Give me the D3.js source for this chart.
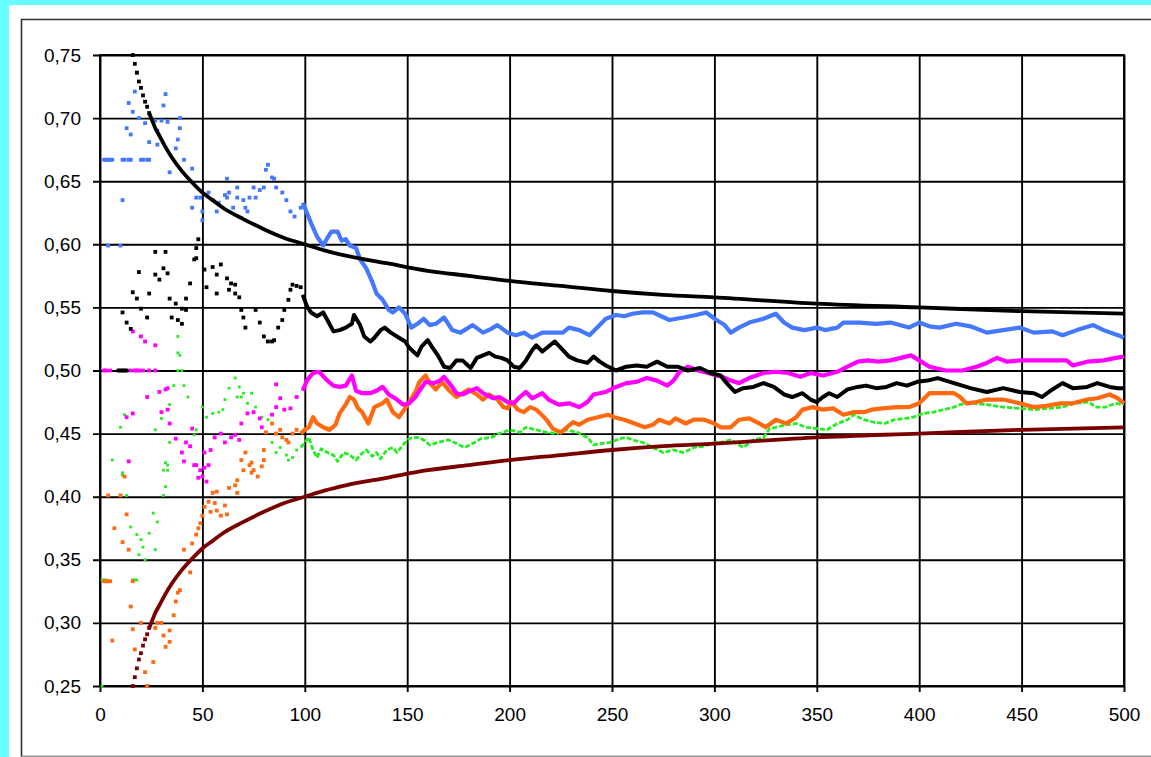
<!DOCTYPE html>
<html>
<head>
<meta charset="utf-8">
<script src="https://cdn.jsdelivr.net/npm/d3@7"></script>
<style>
  body { margin: 0; background: #66ffff; }
  svg { display: block; }
</style>
</head>
<body>
<svg id="chart" width="1151" height="757"></svg>
<script>
// Axis ticks
const xTicks = [0, 50, 100, 150, 200, 250, 300, 350, 400, 450, 500];
const yTicks = [0.25, 0.30, 0.35, 0.40, 0.45, 0.50, 0.55, 0.60, 0.65, 0.70, 0.75];

// Running proportions, [n, value]
const blueSeries = [
  [2,0.667],[3,0.667],[4,0.667],[5,0.667],[6,0.667],[4,0.599],[10,0.599],[11,0.635],[11,0.667],[12,0.667],
  [13,0.692],[14,0.667],[14,0.712],[15,0.667],[15,0.687],[16,0.705],[17,0.721],[18,0.736],[19,0.700],[20,0.667],
  [21,0.667],[22,0.696],[23,0.667],[24,0.667],[24,0.681],[27,0.698],[28,0.679],[28,0.690],[30,0.698],[31,0.710],
  [32,0.719],[33,0.697],[34,0.657],[37,0.676],[38,0.683],[39,0.700],[39,0.692],[41,0.667],[45,0.660],[45,0.629],
  [47,0.637],[49,0.637],[50,0.619],[50,0.626],[53,0.641],[55,0.635],[57,0.626],[58,0.633],[61,0.639],[62,0.637],
  [62,0.652],[63,0.641],[65,0.629],[67,0.645],[67,0.637],[70,0.635],[71,0.629],[72,0.626],[73,0.637],[75,0.645],
  [76,0.637],[78,0.643],[80,0.645],[81,0.659],[82,0.663],[84,0.653],[85,0.652],[86,0.645],[89,0.641],[91,0.635],
  [93,0.626],[95,0.622],[98,0.629],
  [99,0.633],[101,0.625],[103,0.617],[106,0.606],[109,0.599],[111,0.605],[113,0.610],[116,0.610],[118,0.603],[120,0.604],
  [122,0.599],[125,0.597],[127,0.588],[130,0.581],[133,0.570],[135,0.561],[138,0.556],[141,0.548],[143,0.546],[146,0.550],
  [149,0.545],[152,0.534],[155,0.537],[158,0.541],[161,0.536],[164,0.537],[168,0.542],[172,0.532],[176,0.530],[179,0.533],
  [182,0.536],[187,0.530],[191,0.533],[194,0.536],[199,0.530],[203,0.528],[207,0.530],[211,0.526],[216,0.530],[221,0.530],
  [226,0.530],[229,0.534],[234,0.532],[239,0.528],[244,0.536],[247,0.541],[252,0.544],[256,0.543],[260,0.545],[265,0.546],
  [270,0.546],[274,0.543],[278,0.540],[285,0.542],[291,0.544],[296,0.546],[301,0.540],[305,0.536],[308,0.530],[312,0.534],
  [317,0.538],[324,0.541],[330,0.545],[334,0.538],[338,0.534],[344,0.532],[350,0.534],[354,0.532],[360,0.534],[363,0.538],
  [371,0.538],[379,0.537],[386,0.538],[395,0.534],[400,0.538],[405,0.535],[410,0.534],[418,0.537],[425,0.535],[433,0.530],
  [441,0.532],[449,0.534],[456,0.530],[465,0.531],[470,0.528],[477,0.532],[485,0.536],[490,0.532],[497,0.528],[500,0.526]
];

const blackSeries = [
  [9,0.500],[10,0.500],[11,0.500],[12,0.500],[13,0.500],[11,0.546],[13,0.538],[15,0.533],[16,0.562],[18,0.557],
  [19,0.578],[20,0.549],[23,0.542],[24,0.561],[27,0.576],[27,0.594],[29,0.572],[31,0.581],[32,0.594],[33,0.577],
  [34,0.557],[35,0.542],[37,0.553],[38,0.540],[40,0.549],[40,0.537],[42,0.548],[42,0.557],[44,0.569],[46,0.588],
  [47,0.597],[47,0.589],[48,0.604],[51,0.580],[52,0.566],[55,0.582],[57,0.576],[57,0.561],[59,0.584],[62,0.573],
  [63,0.564],[64,0.569],[66,0.568],[66,0.561],[68,0.558],[69,0.548],[70,0.542],[71,0.534],[76,0.548],[78,0.538],
  [80,0.527],[82,0.523],[84,0.523],[85,0.524],[87,0.534],[89,0.540],[90,0.548],[92,0.556],[93,0.564],[94,0.568],
  [96,0.567],[98,0.566],
  [99,0.560],[101,0.551],[103,0.546],[106,0.543],[109,0.546],[112,0.537],[114,0.531],[117,0.532],[120,0.534],[123,0.537],
  [124,0.544],[127,0.536],[129,0.527],[132,0.523],[134,0.526],[137,0.532],[139,0.534],[142,0.530],[145,0.527],[149,0.523],
  [151,0.518],[155,0.512],[157,0.519],[160,0.524],[162,0.519],[165,0.512],[168,0.503],[171,0.502],[174,0.508],[177,0.508],
  [181,0.502],[184,0.510],[187,0.512],[190,0.514],[193,0.511],[196,0.510],[199,0.508],[202,0.503],[205,0.502],[208,0.508],
  [211,0.516],[213,0.520],[216,0.515],[219,0.519],[222,0.523],[225,0.518],[229,0.511],[233,0.508],[238,0.506],[241,0.511],
  [244,0.507],[247,0.504],[252,0.500],[257,0.503],[262,0.504],[267,0.503],[272,0.507],[277,0.503],[282,0.503],[287,0.500],
  [293,0.502],[298,0.498],[303,0.496],[306,0.490],[310,0.483],[314,0.486],[319,0.487],[324,0.490],[329,0.487],[334,0.481],
  [338,0.479],[343,0.482],[347,0.477],[350,0.475],[353,0.479],[356,0.482],[360,0.479],[365,0.485],[370,0.487],[374,0.488],
  [379,0.486],[384,0.487],[389,0.490],[394,0.488],[399,0.491],[404,0.492],[409,0.494],[417,0.490],[425,0.486],[433,0.483],
  [441,0.486],[449,0.483],[456,0.482],[460,0.479],[465,0.485],[470,0.490],[475,0.486],[482,0.487],[487,0.490],[493,0.487],
  [497,0.486],[500,0.486]
];

const magentaSeries = [
  [2,0.500],[3,0.500],[5,0.500],[13,0.463],[14,0.428],[15,0.500],[16,0.466],[16,0.531],[17,0.500],[18,0.500],
  [19,0.500],[20,0.527],[21,0.500],[22,0.523],[23,0.479],[24,0.500],[27,0.520],[27,0.500],[29,0.483],[30,0.467],
  [32,0.485],[33,0.486],[33,0.469],[34,0.458],[37,0.446],[40,0.435],[41,0.428],[42,0.443],[44,0.440],[45,0.454],
  [46,0.425],[47,0.425],[48,0.415],[49,0.421],[50,0.416],[51,0.435],[51,0.423],[52,0.412],[53,0.425],[54,0.437],
  [56,0.447],[59,0.450],[61,0.443],[64,0.447],[66,0.449],[68,0.445],[69,0.458],[72,0.466],[75,0.467],[78,0.462],
  [79,0.455],[84,0.465],[86,0.471],[86,0.489],[88,0.478],[90,0.469],[93,0.470],[96,0.479],
  [99,0.484],[101,0.492],[104,0.498],[107,0.499],[111,0.492],[114,0.488],[117,0.487],[120,0.488],[123,0.496],[125,0.484],
  [128,0.482],[132,0.482],[135,0.484],[138,0.487],[141,0.481],[145,0.477],[148,0.473],[151,0.474],[154,0.479],[156,0.484],
  [159,0.491],[163,0.490],[166,0.492],[168,0.495],[172,0.487],[174,0.482],[177,0.481],[181,0.484],[184,0.486],[187,0.482],
  [192,0.478],[195,0.479],[199,0.475],[202,0.474],[205,0.479],[208,0.483],[211,0.478],[216,0.482],[219,0.477],[224,0.473],
  [229,0.474],[234,0.471],[238,0.475],[241,0.481],[244,0.482],[247,0.483],[252,0.487],[257,0.490],[262,0.491],[267,0.494],
  [272,0.492],[277,0.488],[280,0.492],[283,0.499],[287,0.503],[292,0.500],[297,0.498],[301,0.496],[304,0.495],[308,0.492],
  [312,0.490],[317,0.494],[324,0.498],[330,0.499],[336,0.498],[342,0.495],[347,0.498],[353,0.496],[360,0.499],[365,0.503],
  [370,0.507],[375,0.508],[380,0.507],[386,0.508],[391,0.510],[396,0.512],[400,0.508],[405,0.503],[413,0.500],[421,0.500],
  [428,0.503],[433,0.506],[438,0.510],[443,0.507],[449,0.508],[457,0.508],[465,0.508],[472,0.508],[475,0.504],[482,0.507],
  [490,0.508],[496,0.510],[500,0.511]
];

const orangeSeries = [
  [2,0.333],[3,0.333],[4,0.333],[5,0.333],[4,0.401],[6,0.286],[7,0.375],[10,0.401],[11,0.364],[12,0.416],
  [13,0.386],[14,0.358],[15,0.313],[16,0.333],[16,0.295],[17,0.279],[20,0.300],[22,0.261],[23,0.250],[26,0.269],
  [27,0.296],[28,0.300],[30,0.300],[31,0.290],[32,0.281],[34,0.285],[34,0.294],[36,0.306],[37,0.317],[38,0.324],
  [39,0.326],[41,0.358],[44,0.340],[45,0.363],[47,0.370],[48,0.375],[49,0.379],[50,0.385],[51,0.392],[53,0.396],
  [54,0.388],[55,0.403],[56,0.395],[57,0.389],[57,0.404],[59,0.385],[61,0.393],[62,0.386],[63,0.407],[66,0.409],
  [67,0.413],[67,0.403],[69,0.429],[70,0.421],[71,0.435],[73,0.425],[74,0.427],[74,0.419],[75,0.421],[77,0.416],
  [79,0.424],[80,0.437],[80,0.429],[81,0.451],[84,0.458],[86,0.450],[88,0.453],[89,0.447],[91,0.445],[92,0.443],
  [94,0.450],[96,0.453],
  [98,0.450],[100,0.453],[102,0.455],[104,0.463],[106,0.458],[109,0.455],[112,0.453],[115,0.457],[117,0.466],[120,0.473],
  [122,0.479],[124,0.477],[126,0.470],[128,0.467],[131,0.458],[134,0.471],[138,0.474],[140,0.477],[143,0.467],[146,0.463],
  [149,0.470],[151,0.475],[154,0.483],[156,0.491],[159,0.496],[161,0.490],[164,0.485],[167,0.491],[170,0.485],[174,0.479],
  [177,0.482],[180,0.485],[184,0.481],[187,0.477],[190,0.481],[194,0.477],[197,0.471],[199,0.470],[201,0.475],[204,0.469],
  [207,0.467],[210,0.471],[213,0.469],[215,0.466],[218,0.461],[221,0.454],[225,0.451],[228,0.455],[231,0.459],[234,0.457],
  [238,0.461],[243,0.463],[248,0.465],[251,0.463],[256,0.461],[261,0.458],[266,0.455],[270,0.457],[273,0.461],[278,0.458],
  [281,0.462],[286,0.458],[290,0.461],[295,0.461],[300,0.458],[303,0.455],[308,0.455],[312,0.461],[317,0.462],[322,0.458],
  [325,0.455],[330,0.461],[335,0.458],[340,0.463],[343,0.469],[348,0.471],[353,0.469],[358,0.470],[363,0.465],[368,0.467],
  [373,0.467],[377,0.469],[382,0.470],[389,0.471],[395,0.471],[400,0.474],[405,0.482],[409,0.482],[417,0.482],[420,0.479],
  [423,0.474],[428,0.475],[433,0.477],[441,0.477],[449,0.474],[456,0.471],[462,0.472],[469,0.474],[475,0.474],[482,0.477],
  [487,0.478],[493,0.481],[497,0.478],[500,0.474]
];

const greenSeries = [
  [1,0.250],[1,0.334],[2,0.334],[3,0.334],[6,0.429],[10,0.455],[11,0.419],[11,0.417],[12,0.465],[13,0.401],
  [15,0.376],[16,0.334],[17,0.334],[18,0.334],[18,0.370],[19,0.354],[20,0.366],[21,0.360],[22,0.350],[24,0.371],
  [26,0.387],[27,0.358],[27,0.453],[28,0.380],[30,0.462],[31,0.421],[31,0.401],[32,0.427],[32,0.408],[33,0.421],
  [33,0.425],[34,0.443],[34,0.473],[36,0.488],[38,0.527],[38,0.514],[38,0.500],[39,0.512],[40,0.500],[41,0.488],
  [43,0.479],[46,0.449],[47,0.453],[50,0.471],[52,0.463],[55,0.466],[58,0.467],[60,0.469],[61,0.477],[63,0.486],
  [66,0.494],[67,0.479],[68,0.487],[69,0.479],[70,0.482],[72,0.474],[74,0.482],[76,0.471],[79,0.463],[82,0.461],
  [84,0.443],[86,0.435],[88,0.439],[91,0.433],[92,0.429],[94,0.431],[96,0.437],
  [98,0.439],[100,0.443],[102,0.447],[104,0.437],[106,0.431],[108,0.438],[111,0.435],[114,0.433],[116,0.428],[119,0.435],
  [122,0.433],[125,0.429],[127,0.433],[130,0.437],[133,0.432],[135,0.435],[137,0.430],[140,0.437],[143,0.439],[145,0.435],
  [149,0.443],[151,0.446],[155,0.447],[158,0.445],[161,0.441],[165,0.443],[170,0.445],[173,0.443],[178,0.439],[183,0.443],
  [186,0.446],[191,0.447],[195,0.450],[200,0.453],[205,0.451],[208,0.455],[213,0.453],[218,0.451],[223,0.450],[228,0.453],
  [233,0.451],[238,0.447],[241,0.441],[244,0.442],[249,0.443],[254,0.446],[257,0.447],[260,0.445],[265,0.443],[270,0.439],
  [275,0.435],[280,0.437],[285,0.435],[290,0.439],[295,0.440],[300,0.443],[303,0.443],[308,0.445],[314,0.439],[319,0.445],
  [324,0.447],[327,0.454],[330,0.455],[335,0.457],[340,0.458],[345,0.455],[350,0.454],[355,0.453],[360,0.458],[365,0.461],
  [368,0.465],[373,0.461],[378,0.459],[383,0.458],[388,0.461],[393,0.462],[397,0.463],[402,0.466],[407,0.467],[417,0.471],
  [420,0.473],[425,0.474],[433,0.473],[441,0.471],[449,0.470],[456,0.469],[463,0.470],[470,0.471],[476,0.474],[483,0.475],
  [486,0.471],[491,0.471],[496,0.474],[500,0.473]
];

// Upper and lower envelope curves
const upperBound = [
  [16,0.750],[17,0.743],[18,0.736],[19,0.729],[20,0.724],[21,0.718],[22,0.713],[23,0.709],[24,0.704],[25,0.700],
  [26,0.696],[27,0.692],[28,0.689],[29,0.686],[30,0.683],[32,0.677],[35,0.669],[40,0.658],[45,0.649],[50,0.641],
  [55,0.635],[60,0.629],[70,0.620],[80,0.612],[90,0.605],[100,0.600],[110,0.595],[120,0.591],[140,0.585],[160,0.579],
  [180,0.575],[200,0.571],[225,0.567],[250,0.563],[275,0.560],[300,0.558],[350,0.553],[400,0.550],[450,0.547],[500,0.545]
];
const lowerBound = [
  [16,0.250],[17,0.257],[18,0.264],[19,0.271],[20,0.276],[21,0.282],[22,0.287],[23,0.291],[24,0.296],[25,0.300],
  [26,0.304],[27,0.308],[28,0.311],[29,0.314],[30,0.317],[32,0.323],[35,0.331],[40,0.342],[45,0.351],[50,0.359],
  [55,0.365],[60,0.371],[70,0.380],[80,0.388],[90,0.395],[100,0.400],[110,0.405],[120,0.409],[140,0.415],[160,0.421],
  [180,0.425],[200,0.429],[225,0.433],[250,0.437],[275,0.440],[300,0.442],[350,0.447],[400,0.450],[450,0.453],[500,0.455]
];

const svg = d3.select('#chart');
const W = 1151, H = 757;
const plot = { left: 100, right: 1124, top: 55, bottom: 686 };

// White panel and outer frame
svg.append('rect').attr('x', 9).attr('y', 5).attr('width', W - 9).attr('height', H - 5).attr('fill', '#fff');
svg.append('path')
  .attr('d', `M${W},19.5H21.5V756.5H${W}`)
  .attr('fill', 'none').attr('stroke', '#333').attr('stroke-width', 1.6);
svg.append('line').attr('x1', 21).attr('x2', W).attr('y1', 756.5).attr('y2', 756.5)
  .attr('stroke', '#999').attr('stroke-width', 1.2);

const x = d3.scaleLinear().domain([0, 500]).range([plot.left, plot.right]);
const y = d3.scaleLinear().domain([0.25, 0.75]).range([plot.bottom, plot.top]);

const fontFamily = "'Liberation Sans', Arial, sans-serif";

// Y axis with gridlines
const yAxis = d3.axisLeft(y)
  .tickValues(yTicks)
  .tickSize(-(plot.right - plot.left + 7))
  .tickPadding(12)
  .tickFormat(d => d.toFixed(2).replace('.', ','));
const gy = svg.append('g').attr('transform', `translate(${plot.left - 7},0)`).call(yAxis);
gy.select('.domain').remove();
gy.selectAll('.tick line').attr('stroke', '#000').attr('stroke-width', 1.9);
gy.selectAll('.tick text').attr('font-family', fontFamily).attr('font-size', 19).attr('fill', '#000');

// X axis with gridlines
const xAxis = d3.axisBottom(x)
  .tickValues(xTicks)
  .tickSize(-(plot.bottom - plot.top + 6))
  .tickPadding(16)
  .tickFormat(d3.format('d'));
const gx = svg.append('g').attr('transform', `translate(0,${plot.bottom + 6})`).call(xAxis);
gx.select('.domain').remove();
gx.selectAll('.tick line').attr('stroke', '#000').attr('stroke-width', 1.9);
gx.selectAll('.tick text').attr('font-family', fontFamily).attr('font-size', 19).attr('fill', '#000');

// Plot border
svg.append('rect')
  .attr('x', plot.left).attr('y', plot.top)
  .attr('width', plot.right - plot.left).attr('height', plot.bottom - plot.top)
  .attr('fill', 'none').attr('stroke', '#000').attr('stroke-width', 1.9);

svg.append('clipPath').attr('id', 'plotClip').append('rect')
  .attr('x', plot.left - 2).attr('y', plot.top - 2)
  .attr('width', plot.right - plot.left + 4).attr('height', plot.bottom - plot.top + 4);

const marks = svg.append('g').attr('clip-path', 'url(#plotClip)');

const line = d3.line().x(d => x(d[0])).y(d => y(d[1]));
const smooth = d3.line().x(d => x(d[0])).y(d => y(d[1])).curve(d3.curveMonotoneX);

// Scattered markers for the early trials, joined line once the markers crowd together
function drawSeries(data, color, lineFrom, width, dash) {
  const g = marks.append('g');
  const early = data.filter(d => d[0] < lineFrom);
  const late = data.filter(d => d[0] >= lineFrom).sort((a, b) => a[0] - b[0]);
  const s = Math.min(width, 3.8);
  g.selectAll('rect').data(early).join('rect')
    .attr('x', d => x(d[0]) - s / 2).attr('y', d => y(d[1]) - s / 2)
    .attr('width', s).attr('height', s).attr('fill', color);
  g.append('path').datum(late)
    .attr('d', line)
    .attr('fill', 'none').attr('stroke', color).attr('stroke-width', width)
    .attr('stroke-linejoin', 'round')
    .attr('stroke-dasharray', dash || null);
}

drawSeries(greenSeries, '#22ee22', 98, 2.8, '5 2');
drawSeries(orangeSeries, '#ff6a10', 98, 4.2);
drawSeries(magentaSeries, '#ff00ff', 99, 4.2);
drawSeries(blackSeries, '#000000', 99, 4.0);
drawSeries(blueSeries, '#4478ff', 99, 4.2);

function drawBound(data, color) {
  const g = marks.append('g');
  g.selectAll('rect').data(data.filter(d => d[0] <= 24)).join('rect')
    .attr('x', d => x(d[0]) - 1.9).attr('y', d => y(d[1]) - 1.9)
    .attr('width', 3.8).attr('height', 3.8).attr('fill', color);
  g.append('path').datum(data.filter(d => d[0] >= 24))
    .attr('d', smooth)
    .attr('fill', 'none').attr('stroke', color).attr('stroke-width', 3.8);
}
drawBound(upperBound, '#000000');
drawBound(lowerBound, '#7a0000');
</script>
</body>
</html>
